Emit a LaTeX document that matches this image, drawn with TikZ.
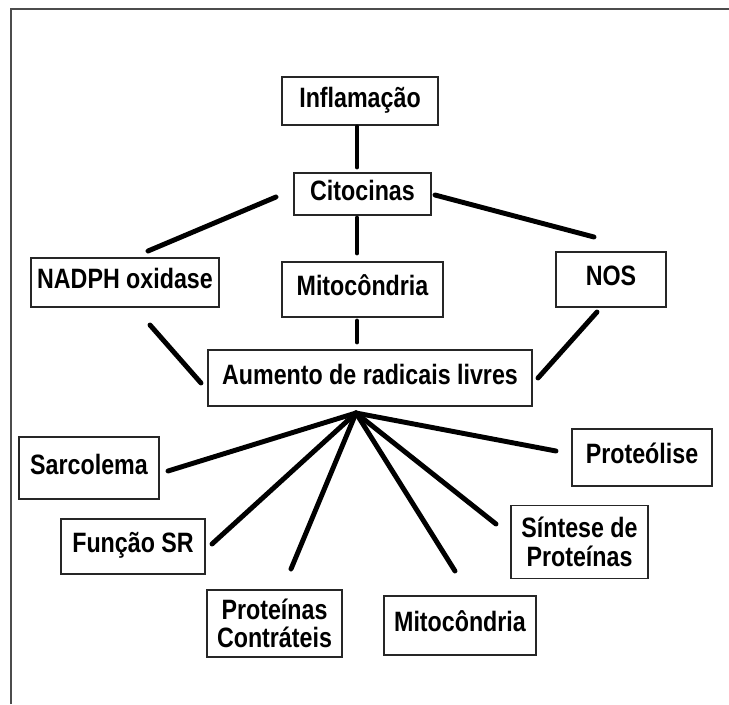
\documentclass[tikz,border=0pt]{standalone}
\usepackage{fontspec}
\newfontfamily\boxfont{Liberation Sans}[FakeStretch=0.83]
\begin{document}
\begin{tikzpicture}[x=0.75pt,y=-0.75pt,
  box/.style={draw=black!85, line width=1.2pt, inner sep=0pt, align=center,
    font=\boxfont\bfseries\fontsize{21pt}{21.5pt}\selectfont},
  one/.style={box, text height=15pt, text depth=6pt},
  link/.style={line width=3.7pt, line cap=round},
  frame/.style={draw=black!70, line width=1.5pt}]
\useasboundingbox (0,0) rectangle (729,704);
\fill[white] (0,0) rectangle (729,704);
\draw[frame] (11,704) -- (11,9) -- (729,9);

\node[one, minimum width=117pt, minimum height=36pt] (infl) at (360,101) {Inflamação};
\node[one, minimum width=102.75pt, minimum height=31.5pt] (cito) at (362.5,194) {Citocinas};
\node[one, minimum width=141pt, minimum height=36.75pt] (nadph) at (125,282.5) {NADPH oxidase};
\node[one, minimum width=120.75pt, minimum height=41.25pt] (mitoa) at (362.5,289.5) {Mitocôndria};
\node[one, minimum width=82.5pt, minimum height=41.25pt] (nos) at (611,279.5) {NOS};
\node[one, minimum width=243pt, minimum height=42pt] (aum) at (370,378) {Aumento de radicais livres};
\node[one, minimum width=105pt, minimum height=46.5pt] (sarc) at (89,468) {Sarcolema};
\node[one, minimum width=105pt, minimum height=42.75pt] (prot) at (642,457.5) {Proteólise};
\node[one, minimum width=108pt, minimum height=41.25pt] (func) at (133,546.5) {Função SR};
\node[box, minimum width=101.25pt, minimum height=50.25pt] (contr) at (274.5,623.5) {Proteínas\\Contráteis};
\node[one, minimum width=114pt, minimum height=44.25pt] (mitob) at (460,625.5) {Mitocôndria};
\node[box, minimum width=102.75pt, minimum height=54.75pt] (sint) at (579.5,542) {Síntese de\\Proteínas};

% free connector ends
\coordinate (c1a) at (357,127);  \coordinate (c1b) at (357,167);
\coordinate (c2a) at (276,197);  \coordinate (c2b) at (148,251);
\coordinate (c3a) at (435,195);  \coordinate (c3b) at (594,237);
\coordinate (c4a) at (357,218);  \coordinate (c4b) at (357,253);
\coordinate (c5a) at (357,321);  \coordinate (c5b) at (357,342);
\coordinate (c6a) at (150,325);  \coordinate (c6b) at (201,383);
\coordinate (c7a) at (597,312);  \coordinate (c7b) at (538,378);
\coordinate (hub) at (356,413);
\coordinate (esarc) at (168,471);
\coordinate (eprot) at (556,451);
\coordinate (efunc) at (212,544);
\coordinate (econtr) at (291,569);
\coordinate (emitob) at (455,571);
\coordinate (esint) at (496,524);

\draw[link] (c1a) -- (c1b);
\draw[link] (c2a) -- (c2b);
\draw[link] (c3a) -- (c3b);
\draw[link] (c4a) -- (c4b);
\draw[link] (c5a) -- (c5b);
\draw[link] (c6a) -- (c6b);
\draw[link] (c7a) -- (c7b);
\draw[link] (hub) -- (esarc);
\draw[link] (hub) -- (eprot);
\draw[link] (hub) -- (efunc);
\draw[link] (hub) -- (econtr);
\draw[link] (hub) -- (emitob);
\draw[link] (hub) -- (esint);
\end{tikzpicture}
\end{document}
